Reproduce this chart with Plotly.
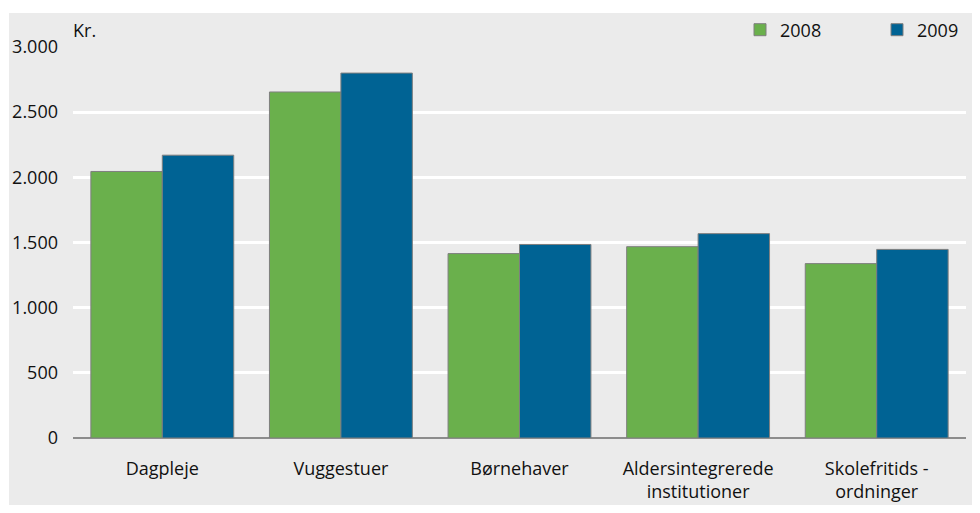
import plotly.graph_objects as go

categories = ["Dagpleje", "Vuggestuer", "Børnehaver", "Aldersintegrerede<br>institutioner", "Skolefritids -<br>ordninger"]
values_2008 = [2045, 2655, 1415, 1468, 1338]
values_2009 = [2170, 2800, 1485, 1568, 1447]
y_ticks = [0, 500, 1000, 1500, 2000, 2500, 3000]

OFF = 8  # browser default body margin
W, H = 980 - OFF, 513 - 2 * OFF
L, R, T = 73 - OFF, 14, 47 - OFF
B = H - (438 - OFF)
pw, ph = W - L - R, H - T - B

def px(x):  # screen x -> paper
    return (x - OFF - L) / pw

def py(y):  # screen y -> paper
    return (H - B - (y - OFF)) / ph

def cx(x):  # screen x -> container
    return (x - OFF) / W

def cy(y):  # screen y -> container
    return 1 - (y - OFF) / H

fig = go.Figure()
fig.add_trace(go.Bar(name="2008", x=categories, y=values_2008,
                     marker=dict(color="#6ab04c", line=dict(color="#7f7f7f", width=1))))
fig.add_trace(go.Bar(name="2009", x=categories, y=values_2009,
                     marker=dict(color="#006394", line=dict(color="#7f7f7f", width=1))))

fig.add_shape(type="rect", xref="paper", yref="paper",
              x0=px(9), x1=px(990), y0=py(530), y1=py(13),
              fillcolor="#ebebeb", line=dict(width=0), layer="below")

fig.add_annotation(text="Kr.", xref="paper", yref="paper", x=px(71), y=py(30),
                   xanchor="left", yanchor="middle", showarrow=False,
                   font=dict(size=18, color="#111"))

fig.update_layout(
    width=W, height=H,
    margin=dict(l=L, r=R, t=T, b=B, autoexpand=False),
    paper_bgcolor="white",
    plot_bgcolor="#dcdcdc",
    barmode="group",
    bargap=0.2,
    bargroupgap=0,
    separators=",.",
    font=dict(family="Open Sans", size=18, color="#111"),
    legend=dict(orientation="h", xref="container", yref="container",
                x=cx(740), xanchor="left", y=cy(30), yanchor="middle",
                bgcolor="rgba(0,0,0,0)", font=dict(size=18),
                entrywidth=92, entrywidthmode="pixels", traceorder="normal"),
    xaxis=dict(showgrid=False, ticks="", tickfont=dict(size=18), ticklabelstandoff=18),
    yaxis=dict(range=[0, 3000], tickvals=y_ticks, tickformat=",d",
               gridcolor="white", gridwidth=2.5, showline=False,
               zeroline=True, zerolinecolor="#8c8c8c", zerolinewidth=2,
               ticks="", ticklabelstandoff=14, tickfont=dict(size=18)),
)

fig.write_html("out.html")
